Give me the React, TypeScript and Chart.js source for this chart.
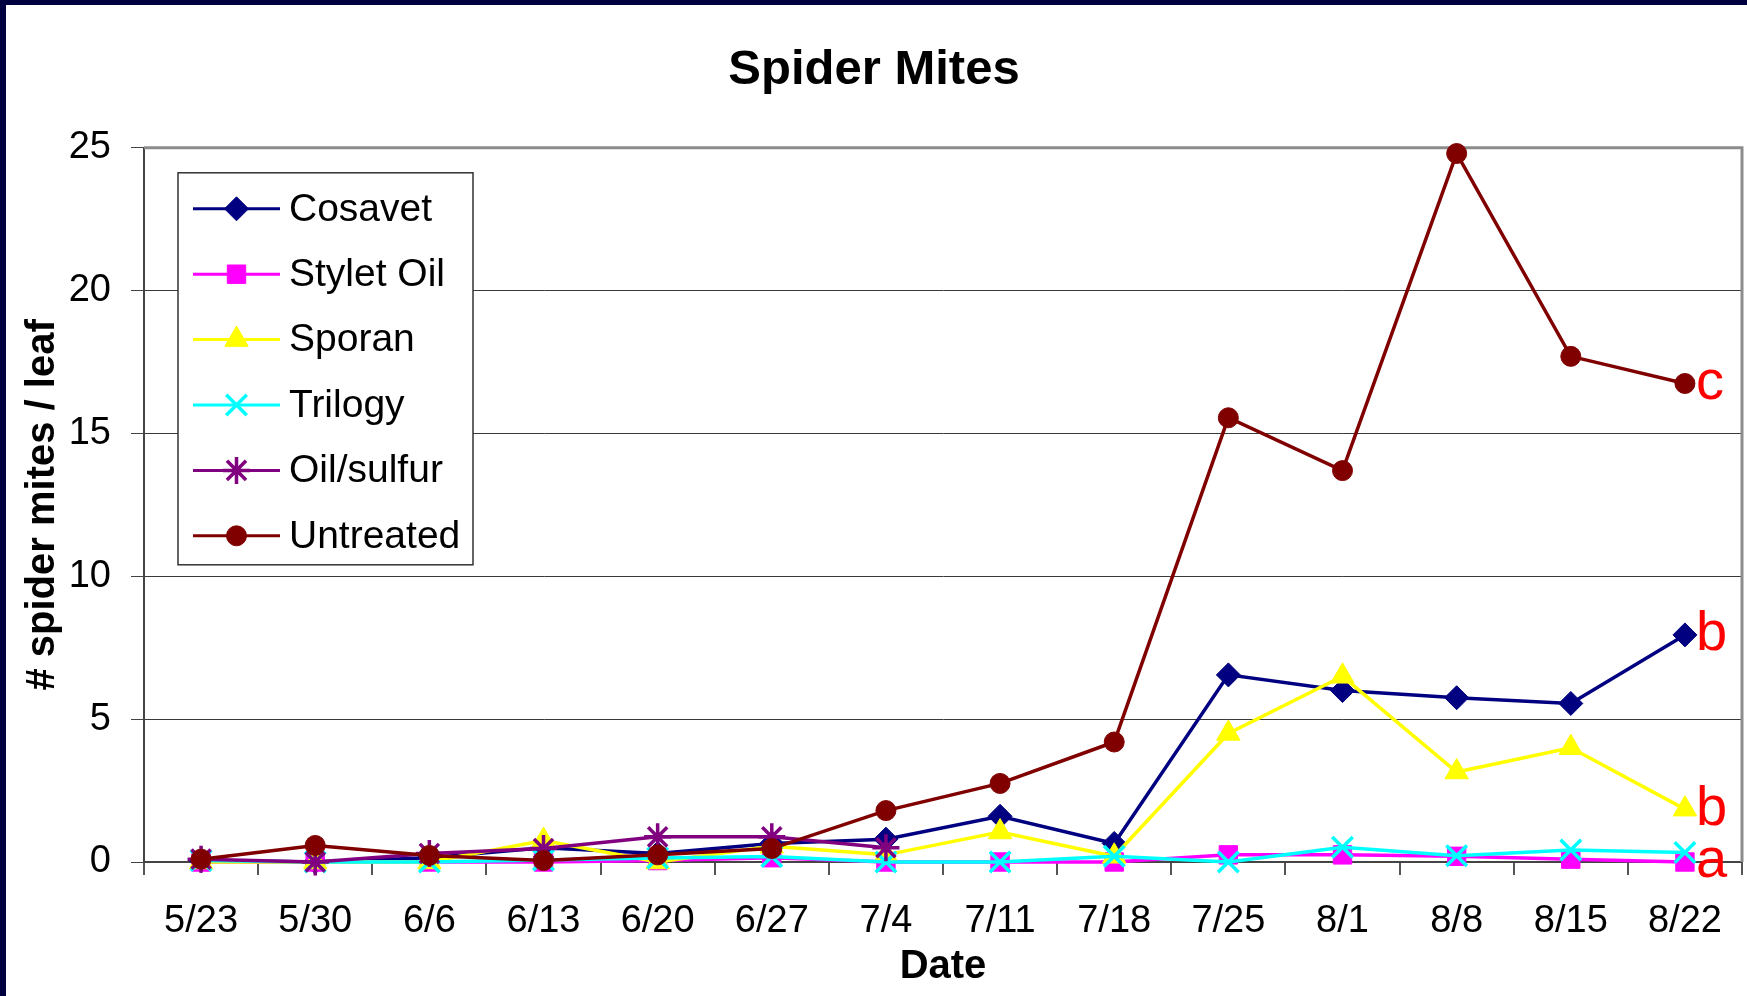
import React, { useEffect, useRef } from 'react';
import { Chart, registerables } from 'chart.js';
import { drawPoint } from 'chart.js/helpers';

Chart.register(...registerables);

const dates = ['5/23', '5/30', '6/6', '6/13', '6/20', '6/27', '7/4', '7/11', '7/18', '7/25', '8/1', '8/8', '8/15', '8/22'];
const cosavet = [0.05, 0, 0.15, 0.5, 0.3, 0.65, 0.8, 1.6, 0.65, 6.55, 6.0, 5.75, 5.55, 7.95];
const styletOil = [0, 0, 0, 0, 0.05, 0.15, 0, 0, 0, 0.25, 0.25, 0.2, 0.1, 0];
const sporan = [0, 0, 0, 0.75, 0, 0.55, 0.25, 1.05, 0.2, 4.5, 6.5, 3.15, 4.0, 1.85];
const trilogy = [0.05, 0, 0, 0.07, 0.14, 0.19, 0, 0, 0.2, 0, 0.52, 0.22, 0.42, 0.33];
const oilSulfur = [0.1, 0, 0.3, 0.47, 0.88, 0.88, 0.5, null, null, null, null, null, null, null];
const untreated = [0.1, 0.58, 0.23, 0.05, 0.25, 0.47, 1.8, 2.75, 4.2, 15.55, 13.7, 24.8, 17.7, 16.75];
const yTicks = [0, 5, 10, 15, 20, 25];
const seriesNames = ['Cosavet', 'Stylet Oil', 'Sporan', 'Trilogy', 'Oil/sulfur', 'Untreated'];
// significance letters attached to the last point of a series
const letterSeries = ['Untreated', 'Cosavet', 'Sporan', 'Stylet Oil'];
const letterText = ['c', 'b', 'b', 'a'];

const FONT = "'Liberation Sans', Arial, Helvetica, sans-serif";

const decorPlugin = {
  id: 'decor',
  beforeDatasetsDraw(chart: any) {
    const { ctx, chartArea: a } = chart;
    ctx.save();
    // top & right frame
    ctx.strokeStyle = '#8c8c8c';
    ctx.lineWidth = 3;
    ctx.beginPath();
    ctx.moveTo(a.left, a.top);
    ctx.lineTo(a.right, a.top);
    ctx.lineTo(a.right, a.bottom);
    ctx.stroke();
    // legend
    const lx = a.left + 34;
    const ly = a.top + 25;
    const lw = 295;
    const lh = 392;
    ctx.fillStyle = '#ffffff';
    ctx.fillRect(lx, ly, lw, lh);
    ctx.strokeStyle = '#333333';
    ctx.lineWidth = 1.5;
    ctx.strokeRect(lx, ly, lw, lh);
    ctx.font = `39px ${FONT}`;
    ctx.textBaseline = 'middle';
    ctx.textAlign = 'left';
    chart.data.datasets.forEach((ds: any, i: number) => {
      const y = ly + 36 + i * 65.4;
      ctx.strokeStyle = ds.borderColor;
      ctx.lineWidth = 3;
      ctx.beginPath();
      ctx.moveTo(lx + 15, y);
      ctx.lineTo(lx + 102, y);
      ctx.stroke();
      ctx.fillStyle = ds.pointBackgroundColor;
      ctx.strokeStyle = ds.pointBorderColor;
      ctx.lineWidth = ds.pointBorderWidth;
      drawPoint(ctx, { pointStyle: ds.pointStyle, radius: ds.pointRadius, borderWidth: ds.pointBorderWidth, rotation: 0 }, lx + 58.5, y);
      ctx.fillStyle = '#000000';
      ctx.fillText(ds.label, lx + 111, y + 1);
    });
    ctx.restore();
  },
  afterDatasetsDraw(chart: any) {
    const { ctx } = chart;
    const xs = chart.scales.x;
    const ys = chart.scales.y;
    ctx.save();
    ctx.font = `56px ${FONT}`;
    ctx.fillStyle = '#ff0000';
    ctx.textBaseline = 'middle';
    ctx.textAlign = 'left';
    letterSeries.forEach((name, i) => {
      const ds = chart.data.datasets.find((d: any) => d.label === name);
      if (!ds) return;
      const idx = dates.length - 1;
      const v = ds.data[idx];
      ctx.fillText(letterText[i], xs.getPixelForValue(idx) + 11, ys.getPixelForValue(v));
    });
    ctx.restore();
  },
};

function makeDataset(label: string, data: (number | null)[], color: string, style: string, radius: number, bw: number, order: number) {
  return {
    label,
    data,
    borderColor: color,
    backgroundColor: color,
    borderWidth: 3.5,
    pointStyle: style,
    pointRadius: radius,
    pointHoverRadius: radius,
    pointBackgroundColor: color,
    pointBorderColor: color,
    pointBorderWidth: bw,
    fill: false,
    tension: 0,
    spanGaps: false,
    clip: false,
    order,
  };
}

export default function App() {
  const ref = useRef<HTMLCanvasElement | null>(null);
  useEffect(() => {
    document.body.style.margin = '0';
    const canvas = ref.current;
    if (!canvas) return;
    const chart = new Chart(canvas, {
      type: 'line',
      data: {
        labels: dates,
        datasets: [
          makeDataset(seriesNames[0], cosavet, '#000080', 'rectRot', 12, 1, 6),
          makeDataset(seriesNames[1], styletOil, '#ff00ff', 'rect', 13, 1, 5),
          makeDataset(seriesNames[2], sporan, '#ffff00', 'triangle', 13.5, 1, 4),
          makeDataset(seriesNames[3], trilogy, '#00ffff', 'crossRot', 14.5, 3.5, 3),
          makeDataset(seriesNames[4], oilSulfur, '#800080', 'star', 13.5, 3.5, 2),
          makeDataset(seriesNames[5], untreated, '#800000', 'circle', 10, 1, 1),
        ] as any,
      },
      options: {
        responsive: false,
        animation: false,
        devicePixelRatio: 1,
        layout: { autoPadding: false, padding: { left: 0, right: 5, top: 0, bottom: 0 } },
        plugins: {
          legend: { display: false },
          tooltip: { enabled: false },
          title: {
            display: true,
            text: 'Spider Mites',
            color: '#000',
            font: { family: FONT, size: 49, weight: 'bold' },
            padding: { top: 36, bottom: 48 },
          },
        },
        scales: {
          x: {
            type: 'category',
            offset: true,
            grid: {
              display: true,
              drawOnChartArea: false,
              drawTicks: true,
              tickLength: 13,
              offset: true,
              color: '#555',
              tickColor: '#555',
              lineWidth: 2,
            },
            border: { display: true, color: '#444', width: 2 },
            ticks: {
              color: '#000',
              font: { family: FONT, size: 38, lineHeight: 2.3 },
              padding: 3,
              autoSkip: false,
              maxRotation: 0,
              minRotation: 0,
            },
            title: {
              display: true,
              text: 'Date',
              color: '#000',
              font: { family: FONT, size: 40, weight: 'bold' },
              padding: { top: 0, bottom: 5 },
            },
            afterFit(scale: any) {
              scale.height = 134;
            },
          },
          y: {
            min: 0,
            max: 25,
            afterBuildTicks(scale: any) {
              scale.ticks = yTicks.map((v) => ({ value: v }));
            },
            grid: {
              color: (c: any) => (c.tick && c.tick.value === 25 ? 'rgba(0,0,0,0)' : '#3a3a3a'),
              tickColor: '#444',
              tickLength: 13,
              lineWidth: 1,
            },
            border: { display: true, color: '#444', width: 2 },
            ticks: {
              color: '#000',
              font: { family: FONT, size: 38 },
              padding: 20,
            },
            title: {
              display: true,
              text: '# spider mites / leaf',
              color: '#000',
              font: { family: FONT, size: 40, weight: 'bold' },
              padding: { top: 13, bottom: 0 },
            },
            afterFit(scale: any) {
              scale.width = 138;
            },
          },
        },
      },
      plugins: [decorPlugin],
    });
    return () => chart.destroy();
  }, []);

  return (
    <div
      style={{
        width: 1741,
        height: 991,
        borderTop: '5px solid #000040',
        borderLeft: '6px solid #000040',
        background: '#ffffff',
      }}
    >
      <canvas ref={ref} width={1741} height={991} style={{ display: 'block', width: 1741, height: 991 }} />
    </div>
  );
}
